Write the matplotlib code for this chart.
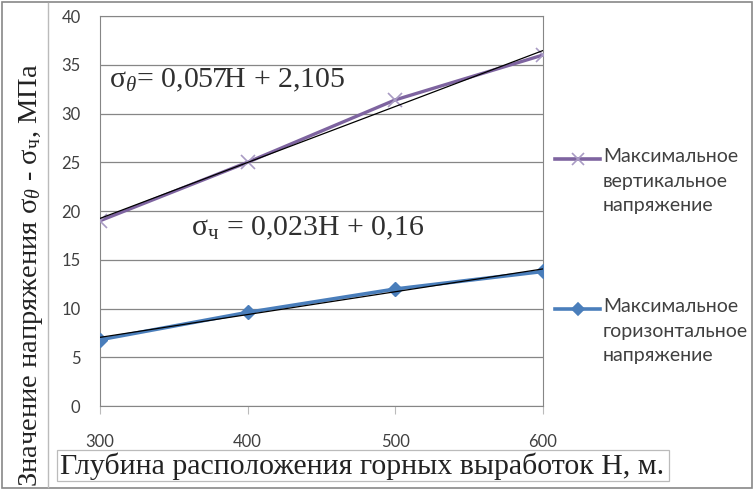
import numpy as np
import matplotlib.pyplot as plt
from matplotlib.patches import Rectangle
from matplotlib.lines import Line2D

plt.rcParams['mathtext.fontset'] = 'custom'
plt.rcParams['mathtext.rm'] = 'Liberation Serif'
plt.rcParams['mathtext.it'] = 'Liberation Serif:italic'

# data
depth = [300, 400, 500, 600]
vertical = [19.0, 25.0, 31.4, 36.0]
horizontal = [6.8, 9.6, 12.0, 13.8]
vert_label = 'Максимальное\nвертикальное\nнапряжение'
horiz_label = 'Максимальное\nгоризонтальное\nнапряжение'

W, H = 755, 490
fig = plt.figure(figsize=(W / 100, H / 100), dpi=100)
ax = fig.add_axes([100 / W, 1 - 406 / H, 443 / W, 390 / H])

# series
purple = '#7E64A0'
blue = '#4A7EBB'
ax.plot(depth, vertical, color=purple, lw=2.4, marker='x', ms=10, mew=1.2,
        mec='#A99BC4', zorder=3)
ax.plot(depth, horizontal, color=blue, lw=2.6, marker='D', ms=7, zorder=3)

# linear trend lines
x = np.array(depth)
for ys in (vertical, horizontal):
    k, b = np.polyfit(x, ys, 1)
    ax.plot(x, k * x + b, color='black', lw=0.9, zorder=4)

ax.set_xlim(300, 600)
ax.set_ylim(0, 40)
ax.set_yticks(range(0, 41, 5))
ax.set_xticks(depth)
ax.grid(axis='y', color='#868686', lw=0.9)
ax.set_axisbelow(True)
for s in ax.spines.values():
    s.set_color('#868686')
ax.tick_params(axis='y', length=0, pad=14, labelsize=12, labelcolor='#404040')
ax.tick_params(axis='x', length=6, color='#BBBBBB', pad=14, labelsize=12,
               labelcolor='#404040')
for t in ax.get_xticklabels() + ax.get_yticklabels():
    t.set_family('Lato')

# trend equations
ax.text(0.02, 0.835, 'σ$_\\theta$= 0,057H + 2,105', transform=ax.transAxes,
        fontsize=21.5, family='Liberation Serif', color='#303030', va='center')
ax.text(0.205, 0.455, 'σ$_{\\mathrm{ч}}$ = 0,023H + 0,16', transform=ax.transAxes,
        fontsize=21.5, family='Liberation Serif', color='#303030', va='center')

# axis labels in boxes
fig.text(31 / W, 1 - 487 / H, 'Значение напряжения σ$_{\\theta}$ - σ$_{\\mathrm{ч}}$, МПа',
         rotation=90, ha='center', va='bottom', fontsize=20.5,
         family='Liberation Serif', color='#222222')
fig.add_artist(Line2D([48 / W, 48 / W], [0.006, 0.994], color='#BBBBBB', lw=1))
fig.text(362 / W, 1 - 466 / H, 'Глубина расположения горных выработок Н, м.',
         ha='center', va='center', fontsize=21.5, family='Liberation Serif',
         color='#222222')
fig.patches.append(Rectangle((57 / W, 1 - 481 / H), 612 / W, 31 / H,
                             transform=fig.transFigure, fill=False,
                             ec='#BBBBBB', lw=0.9))

# outer border
fig.patches.append(Rectangle((0.003, 0.005), 0.993, 0.99, transform=fig.transFigure,
                             fill=False, ec='#888888', lw=1.2))

# legend drawn at the first line of each entry
entries = [(vert_label, purple, 'x', 8, '#A99BC4', 159),
           (horiz_label, blue, 'D', 6, blue, 309)]
for label, c, m, ms, mec, yy in entries:
    yf = 1 - yy / H
    fig.add_artist(Line2D([555 / W, 600 / W], [yf, yf], color=c, lw=2.6))
    fig.add_artist(Line2D([577.5 / W], [yf], color=c, marker=m, ms=ms,
                          mec=mec, mew=1.2))
    fig.text(603 / W, 1 - (yy - 11) / H, label, ha='left', va='top',
             fontsize=14, family='Lato', color='#404040', linespacing=1.55)

fig.savefig('out.png', dpi=100)
